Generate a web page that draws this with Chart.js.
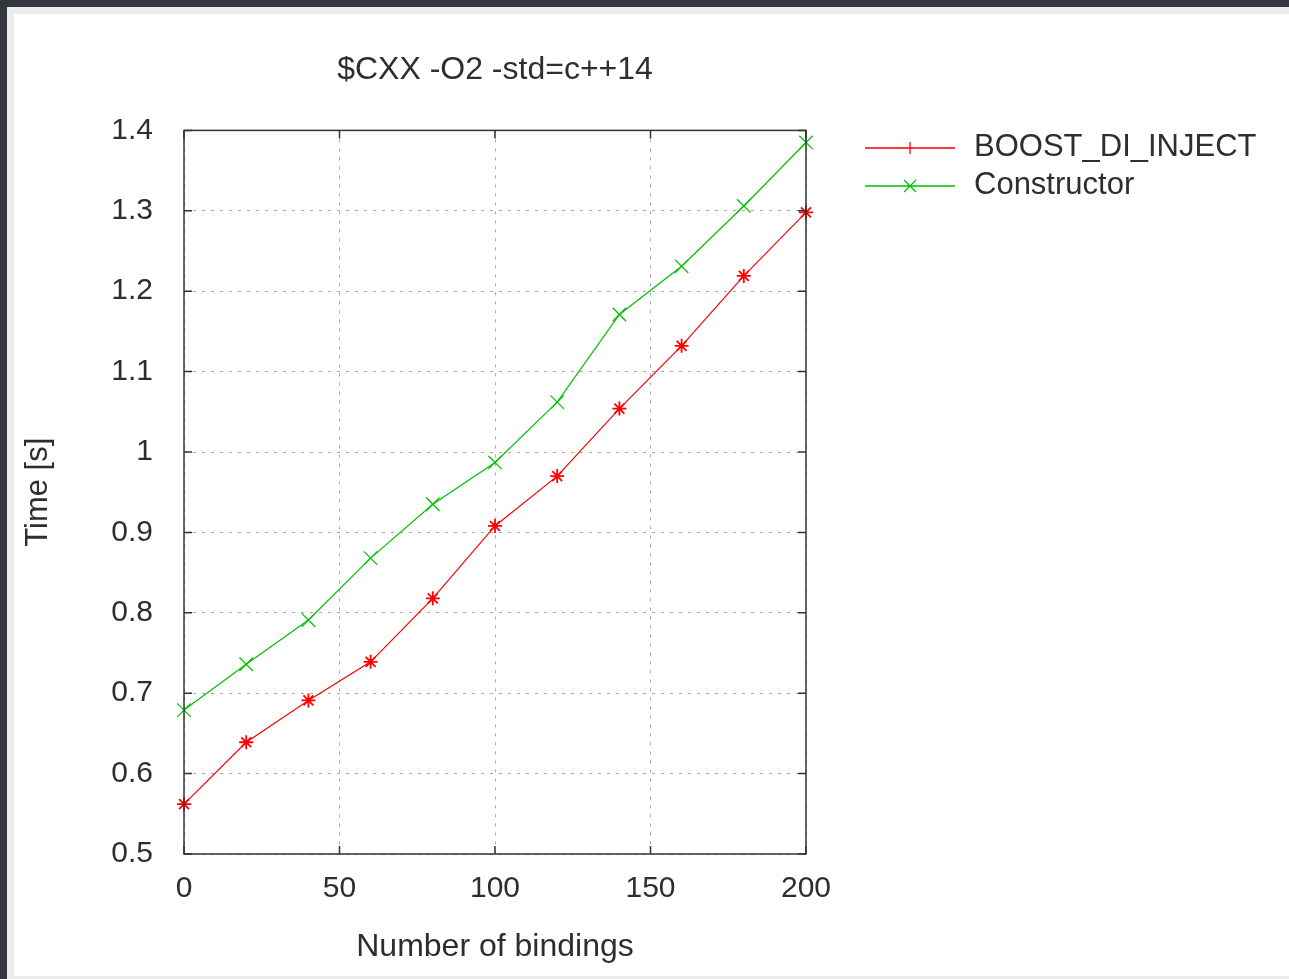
<!DOCTYPE html>
<html>
<head>
<meta charset="utf-8">
<script src="https://cdn.jsdelivr.net/npm/chart.js@4/dist/chart.umd.min.js"></script>
<style>
  html, body { margin: 0; padding: 0; background: #33373b; overflow: hidden; }
  #frame { position: absolute; left: 7px; top: 7px; width: 1282px; height: 972px; background: #ececec; }
  #sheet { position: absolute; left: 7px; top: 7px; width: 1275px; height: 962px; background: #fff; }
  canvas { display: block; }
</style>
</head>
<body>
<div id="frame"><div id="sheet"><canvas id="grafico" width="1275" height="962"></canvas></div></div>
<script>
const bindings = [0, 20, 40, 60, 80, 100, 120, 140, 160, 180, 200];
const boostDiInject = [0.562, 0.639, 0.691, 0.739, 0.818, 0.908, 0.970, 1.054, 1.132, 1.219, 1.298];
const constructorTimes = [0.679, 0.736, 0.791, 0.868, 0.935, 0.987, 1.062, 1.171, 1.231, 1.306, 1.385];

const xTickValues = [0, 50, 100, 150, 200];
const xTickLabels = ['0', '50', '100', '150', '200'];
const yTickValues = [0.5, 0.6, 0.7, 0.8, 0.9, 1.0, 1.1, 1.2, 1.3, 1.4];
const yTickLabels = ['0.5', '0.6', '0.7', '0.8', '0.9', '1', '1.1', '1.2', '1.3', '1.4'];

const fuente = '"Liberation Sans", Arial, sans-serif';
const texto = '#2e2e2e';
const rojo = '#ff0000';
const verde = '#00c000';

function puntos(valores) {
    return bindings.map((b, i) => ({ x: b, y: valores[i] }));
}

// border box + inward ticks, gnuplot style
const marcoPlugin = {
    id: 'marco',
    afterDatasetsDraw(chart) {
        const { ctx, chartArea: a, scales: { x, y } } = chart;
        ctx.save();
        ctx.strokeStyle = '#333';
        ctx.lineWidth = 1.5;
        ctx.strokeRect(a.left, a.top, a.right - a.left, a.bottom - a.top);
        ctx.beginPath();
        x.ticks.forEach(t => {
            const px = x.getPixelForValue(t.value);
            ctx.moveTo(px, a.bottom); ctx.lineTo(px, a.bottom - 8);
            ctx.moveTo(px, a.top); ctx.lineTo(px, a.top + 8);
        });
        y.ticks.forEach(t => {
            const py = y.getPixelForValue(t.value);
            ctx.moveTo(a.left, py); ctx.lineTo(a.left + 8, py);
            ctx.moveTo(a.right, py); ctx.lineTo(a.right - 8, py);
        });
        ctx.stroke();
        ctx.restore();
    }
};

const leyendaPlugin = {
    id: 'leyenda',
    afterDraw(chart) {
        const ctx = chart.ctx;
        chart.data.datasets.forEach((ds, i) => {
            const y = 134 + i * 38;
            const cx = 896;
            ctx.save();
            ctx.strokeStyle = ds.borderColor;
            ctx.lineWidth = 1.3;
            ctx.beginPath();
            ctx.moveTo(851, y); ctx.lineTo(941, y);
            if (i === 0) {
                ctx.moveTo(cx, y - 6); ctx.lineTo(cx, y + 6);
            } else {
                ctx.moveTo(cx - 6, y - 6); ctx.lineTo(cx + 6, y + 6);
                ctx.moveTo(cx - 6, y + 6); ctx.lineTo(cx + 6, y - 6);
            }
            ctx.stroke();
            ctx.fillStyle = texto;
            ctx.font = '31px ' + fuente;
            ctx.textBaseline = 'middle';
            ctx.fillText(ds.label, 960, y - 1);
            ctx.restore();
        });
    }
};

const ctx = document.getElementById('grafico').getContext('2d');

new Chart(ctx, {
    type: 'line',
    data: {
        datasets: [{
            label: 'BOOST_DI_INJECT',
            data: puntos(boostDiInject),
            borderColor: rojo,
            backgroundColor: rojo,
            borderWidth: 1.2,
            pointStyle: 'star',
            pointRadius: 7,
            pointBorderWidth: 1.8,
            pointBorderColor: rojo,
            clip: false
        }, {
            label: 'Constructor',
            data: puntos(constructorTimes),
            borderColor: verde,
            backgroundColor: verde,
            borderWidth: 1.2,
            pointStyle: 'crossRot',
            pointRadius: 9.5,
            pointBorderWidth: 1.2,
            pointBorderColor: verde,
            clip: false
        }]
    },
    options: {
        responsive: false,
        animation: false,
        layout: { padding: { left: 0, top: 0, right: 483, bottom: 0 } },
        scales: {
            x: {
                type: 'linear',
                min: 0,
                max: 200,
                afterBuildTicks: s => { s.ticks = xTickValues.map(v => ({ value: v })); },
                afterFit: s => { s.height = 122; },
                ticks: {
                    padding: 17,
                    color: texto,
                    font: { family: fuente, size: 30 },
                    callback: (v, i) => xTickLabels[i]
                },
                grid: { color: '#a8a8a8', lineWidth: 1, drawTicks: false },
                border: { display: false, dash: [3, 6] },
                title: {
                    display: true,
                    text: 'Number of bindings',
                    color: texto,
                    font: { family: fuente, size: 32 },
                    padding: { top: 0, bottom: 10 }
                }
            },
            y: {
                type: 'linear',
                min: 0.5,
                max: 1.4,
                afterBuildTicks: s => { s.ticks = yTickValues.map(v => ({ value: v })); },
                afterFit: s => { s.width = 170; },
                ticks: {
                    padding: 31,
                    color: texto,
                    font: { family: fuente, size: 30 },
                    callback: (v, i) => yTickLabels[i]
                },
                grid: { color: '#a8a8a8', lineWidth: 1, drawTicks: false },
                border: { display: false, dash: [3, 6] },
                title: {
                    display: true,
                    text: 'Time [s]',
                    color: texto,
                    font: { family: fuente, size: 31 },
                    padding: { top: 6, bottom: 0 }
                }
            }
        },
        plugins: {
            legend: { display: false },
            tooltip: { enabled: false },
            title: {
                display: true,
                fullSize: false,
                text: '$CXX -O2 -std=c++14',
                color: texto,
                font: { family: fuente, size: 32, weight: 'normal' },
                padding: { top: 37, bottom: 41 }
            }
        }
    },
    plugins: [marcoPlugin, leyendaPlugin]
});
</script>
</body>
</html>
